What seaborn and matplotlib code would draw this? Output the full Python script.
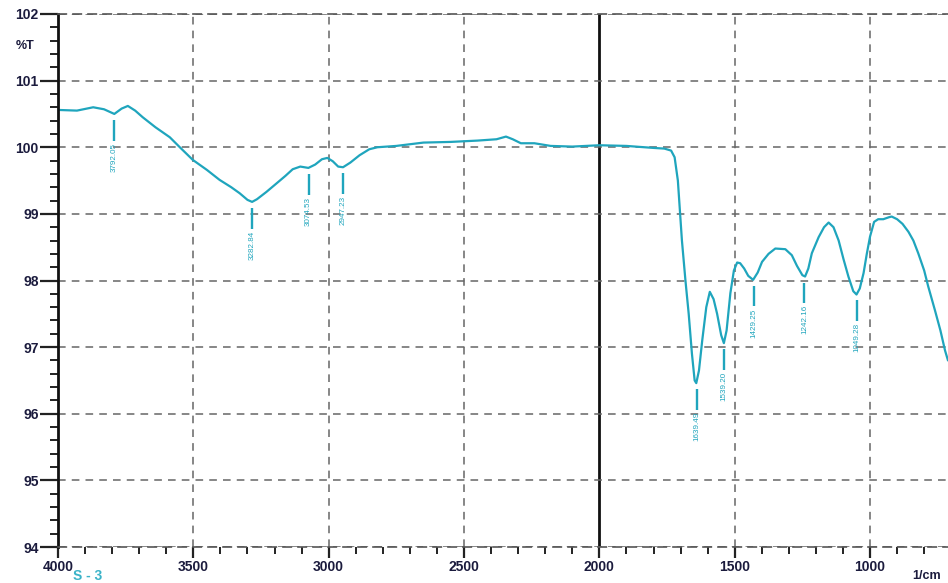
import numpy as np
import pandas as pd
import matplotlib
matplotlib.use("Agg")
import matplotlib.pyplot as plt
from matplotlib.ticker import MultipleLocator
import seaborn as sns

sns.set_style("ticks")
plt.rcParams["font.family"] = ["Liberation Sans", "DejaVu Sans"]

# spectrum (wavenumber 1/cm, transmittance %T)
wavenumber = [4000, 3930, 3870, 3830, 3792, 3765, 3742, 3715, 3687, 3640,
              3587, 3550, 3502, 3450, 3403, 3360, 3329, 3300, 3283, 3265,
              3230, 3192, 3160, 3133, 3105, 3075, 3050, 3025, 3005, 2985,
              2965, 2947, 2920, 2886, 2850, 2820, 2750, 2650, 2550, 2450,
              2380, 2345, 2320, 2290, 2240, 2180, 2100, 2000, 1900, 1800,
              1760, 1735, 1722, 1710, 1695, 1682, 1670, 1658, 1648, 1642,
              1632, 1620, 1605, 1592, 1578, 1565, 1550, 1540, 1530, 1516,
              1503, 1491, 1480, 1465, 1450, 1432, 1415, 1399, 1375, 1350,
              1313, 1289, 1270, 1250, 1240, 1228, 1215, 1190, 1170, 1153,
              1135, 1116, 1098, 1080, 1062, 1050, 1038, 1024, 1012, 1000,
              985, 970, 951, 930, 920, 900, 880, 858, 840, 822,
              800, 785, 760, 740, 723, 712]
transmittance = [100.56, 100.55, 100.60, 100.57, 100.50, 100.58, 100.62, 100.55, 100.45, 100.30,
                 100.15, 100.00, 99.81, 99.66, 99.51, 99.40, 99.31, 99.21, 99.18, 99.22,
                 99.33, 99.46, 99.57, 99.67, 99.71, 99.69, 99.74, 99.82, 99.84, 99.79,
                 99.71, 99.70, 99.77, 99.88, 99.97, 100.00, 100.02, 100.07, 100.08, 100.10,
                 100.12, 100.16, 100.12, 100.06, 100.06, 100.02, 100.01, 100.03, 100.02, 99.99,
                 99.98, 99.95, 99.85, 99.50, 98.60, 98.00, 97.50, 96.90, 96.50, 96.46,
                 96.65, 97.10, 97.60, 97.83, 97.72, 97.50, 97.18, 97.06, 97.25, 97.81,
                 98.15, 98.27, 98.26, 98.18, 98.07, 98.01, 98.12, 98.28, 98.40, 98.48,
                 98.47, 98.38, 98.22, 98.08, 98.06, 98.18, 98.41, 98.65, 98.80, 98.87,
                 98.80, 98.60, 98.32, 98.06, 97.84, 97.79, 97.88, 98.11, 98.40, 98.66,
                 98.88, 98.92, 98.92, 98.95, 98.96, 98.92, 98.85, 98.73, 98.60, 98.41,
                 98.15, 97.91, 97.55, 97.25, 96.95, 96.80]

# labelled peaks
peak_labels = ["3792.05", "3282.84", "3074.53", "2947.23", "1639.49",
               "1539.20", "1429.25", "1242.16", "1049.28"]
peak_wn = [3792.05, 3282.84, 3074.53, 2947.23, 1639.49, 1539.20, 1429.25, 1242.16, 1049.28]
peak_t = [100.50, 99.18, 99.69, 99.70, 96.46, 97.06, 98.01, 98.06, 97.79]

LINE_COLOR = "#1fa5bd"
TEXT_COLOR = "#1b1b3d"

df = pd.DataFrame({"wn": wavenumber, "T": transmittance})

fig = plt.figure(figsize=(9.48, 5.83), dpi=100)
ax = fig.add_axes([0.0612, 0.0617, 0.9388, 0.9143])

sns.lineplot(data=df, x="wn", y="T", ax=ax, color=LINE_COLOR, lw=1.6,
             sort=False, estimator=None)

for lab, w, t in zip(peak_labels, peak_wn, peak_t):
    ax.vlines(w, t - 0.40, t - 0.09, color=LINE_COLOR, lw=1.7)
    ax.text(w, t - 0.43, lab, rotation=90, ha="center", va="top",
            fontsize=5.8, color=LINE_COLOR)

ax.set_xlim(4000, 712)
ax.set_ylim(94, 102)
ax.set_xlabel("")
ax.set_ylabel("")

ax.xaxis.set_major_locator(MultipleLocator(500))
ax.xaxis.set_minor_locator(MultipleLocator(100))
ax.yaxis.set_major_locator(MultipleLocator(1))
ax.yaxis.set_minor_locator(MultipleLocator(0.2))

ax.tick_params(axis="y", which="major", length=13, width=1.6, color="#222222",
               labelsize=10, labelcolor=TEXT_COLOR, pad=1)
ax.tick_params(axis="y", which="minor", length=6, width=1.4, color="#222222")
ax.tick_params(axis="x", which="major", length=8, width=1.6, color="#222222",
               labelsize=10, labelcolor=TEXT_COLOR, pad=1)
ax.tick_params(axis="x", which="minor", length=5, width=1.4, color="#222222")
for lbl in ax.get_xticklabels() + ax.get_yticklabels():
    lbl.set_fontweight("bold")

ax.grid(True, which="major", color="#666666", linestyle=(0, (5, 4)), lw=1.1)
for gl in ax.get_xgridlines():
    if abs(gl.get_xdata()[0] - 2000) < 1:
        gl.set_linestyle("-")
        gl.set_color("#111111")
        gl.set_linewidth(2)

ax.spines["left"].set_linewidth(2)
ax.spines["left"].set_color("#111111")
ax.spines["right"].set_visible(False)
for side in ("top", "bottom"):
    ax.spines[side].set_linestyle((0, (5, 4)))
    ax.spines[side].set_color("#555555")
    ax.spines[side].set_linewidth(1.2)

fig.text(25 / 948, 1 - 46 / 583, "%T", fontsize=9, fontweight="bold",
         color=TEXT_COLOR, ha="center", va="center")
fig.text(88 / 948, 1 - 576 / 583, "S - 3", fontsize=10, fontweight="bold",
         color="#3bb3c8", ha="center", va="center")
fig.text(912 / 948, 1 - 576 / 583, "1/cm", fontsize=9, fontweight="bold",
         color=TEXT_COLOR, ha="left", va="center")

fig.savefig("out.png", dpi=100)
